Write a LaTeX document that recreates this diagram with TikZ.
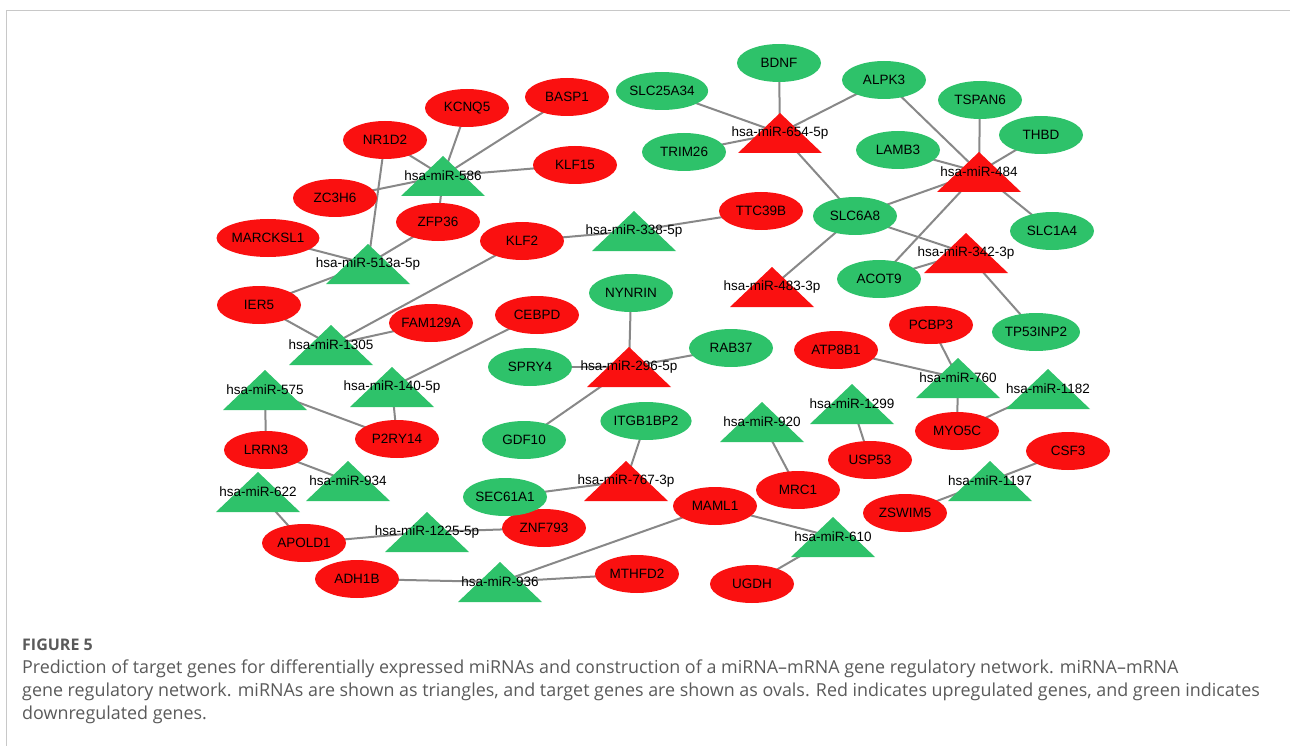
\documentclass[tikz,border=0pt]{standalone}
\usepackage{fontspec}
\usepackage{tikz}
\usetikzlibrary{shapes.geometric,backgrounds}
\newfontfamily\netfont{Liberation Sans}
\newfontfamily\capfont{Open Sans}
\definecolor{upred}{RGB}{250,16,16}
\definecolor{downgreen}{RGB}{46,194,106}
\definecolor{edgegray}{RGB}{136,136,136}
\definecolor{framegray}{RGB}{200,200,200}
\definecolor{capgray}{RGB}{90,90,90}

\begin{document}
\begin{tikzpicture}[x=1pt,y=-1pt,
    gene/.style={ellipse, minimum width=84, minimum height=38, inner sep=0pt,
      font=\netfont\fontsize{13.5}{14}\selectfont},
    mir/.style={inner sep=0pt, font=\netfont\fontsize{13.5}{14}\selectfont},
    edge/.style={edgegray, line width=2pt},
    captext/.style={anchor=west, inner sep=0pt, text=capgray,
      font=\capfont\fontsize{17.9}{19}\selectfont}]
  \useasboundingbox (0,0) rectangle (1290,746);
  % panel frame
  \draw[framegray, line width=1.5pt] (1290,10.5) -- (6.5,10.5) -- (6.5,746);

  % target genes, upregulated
  \foreach \n/\x/\y in {KCNQ5/467/108, BASP1/567/97, NR1D2/385/140, KLF15/575/165,
      ZC3H6/335/198, ZFP36/438/222, KLF2/522/241, MARCKSL1/268/238, IER5/259/305,
      FAM129A/431/323, CEBPD/537/315, TTC39B/761/211, PCBP3/931/325, ATP8B1/836/350,
      MYO5C/957/431, USP53/870/460, CSF3/1068/451, MRC1/798/490, ZSWIM5/905/513,
      MAML1/715/506, P2RY14/397/439, LRRN3/266/450, APOLD1/304/543, ZNF793/544/528,
      ADH1B/357/579, MTHFD2/637/574, UGDH/752/584} {
    \node[gene, fill=upred] (\n) at (\x,\y) {\n};
  }
  % target genes, downregulated
  \foreach \n/\x/\y in {BDNF/779/63, SLC25A34/662/91, ALPK3/884/80, TRIM26/684/152,
      TSPAN6/980/100, THBD/1041/135, LAMB3/898/150, SLC6A8/855/216, SLC1A4/1052/231,
      ACOT9/879/279, TP53INP2/1036/332, NYNRIN/631/293, SPRY4/530/367, RAB37/731/348,
      GDF10/524/440, ITGB1BP2/646/421, SEC61A1/505/497} {
    \node[gene, fill=downgreen] (\n) at (\x,\y) {\n};
  }

  % miRNAs (triangles)
  \foreach \n/\x/\y/\c/\t in {m586/443/176/downgreen/hsa-miR-586,
      m513/368/264/downgreen/hsa-miR-513a-5p, m338/634/231/downgreen/hsa-miR-338-5p,
      m654/780/133/upred/hsa-miR-654-5p, m484/979/172/upred/hsa-miR-484,
      m342/966/253/upred/hsa-miR-342-3p, m483/772/287/upred/hsa-miR-483-3p,
      m1305/331/345/downgreen/hsa-miR-1305, m140/392/387/downgreen/hsa-miR-140-5p,
      m575/265/390/downgreen/hsa-miR-575, m296/629/367/upred/hsa-miR-296-5p,
      m760/958/378/downgreen/hsa-miR-760, m1182/1048/389/downgreen/hsa-miR-1182,
      m1299/852/404/downgreen/hsa-miR-1299, m920/762/422/downgreen/hsa-miR-920,
      m934/348/481/downgreen/hsa-miR-934, m622/258/492/downgreen/hsa-miR-622,
      m767/626/481/upred/hsa-miR-767-3p, m1197/990/481/downgreen/hsa-miR-1197,
      m1225/427/532/downgreen/hsa-miR-1225-5p, m610/833/537/downgreen/hsa-miR-610,
      m936/500/582/downgreen/hsa-miR-936} {
    \fill[\c] (\x-42,\y+20) -- (\x,\y-20) -- (\x+42,\y+20) -- cycle;
    \node[mir] (\n) at (\x,\y) {\t};
  }

  % interactions
  \begin{scope}[on background layer]
    \foreach \a/\b in {m586/NR1D2, m586/KCNQ5, m586/BASP1, m586/KLF15, m586/ZC3H6,
        m586/ZFP36, m513/NR1D2, m513/MARCKSL1, m513/ZFP36, m513/IER5,
        m338/KLF2, m338/TTC39B, m1305/IER5, m1305/FAM129A, m1305/KLF2,
        m654/BDNF, m654/SLC25A34, m654/ALPK3, m654/TRIM26, m654/SLC6A8,
        m484/ALPK3, m484/TSPAN6, m484/THBD, m484/LAMB3, m484/SLC6A8, m484/SLC1A4,
        m484/ACOT9, m342/SLC6A8, m342/ACOT9, m342/TP53INP2, m483/SLC6A8,
        m140/CEBPD, m140/P2RY14, m575/LRRN3, m575/P2RY14,
        m296/NYNRIN, m296/SPRY4, m296/RAB37, m296/GDF10,
        m760/ATP8B1, m760/PCBP3, m760/MYO5C, m1182/MYO5C, m1299/USP53, m920/MRC1,
        m934/LRRN3, m622/APOLD1, m767/ITGB1BP2, m767/SEC61A1,
        m1197/CSF3, m1197/ZSWIM5, m1225/APOLD1, m1225/ZNF793,
        m610/MAML1, m610/UGDH, m936/ADH1B, m936/MTHFD2, m936/MAML1} {
      \draw[edge] (\a.center) -- (\b.center);
    }
  \end{scope}

  % caption
  \node[captext, font=\capfont\bfseries\fontsize{16}{18}\selectfont] (fig) at (22,645) {FIGURE 5};
  \node[captext] (cap1) at (22,669) {Prediction of target genes for differentially expressed miRNAs and construction of a miRNA–mRNA gene regulatory network. miRNA–mRNA};
  \node[captext] (cap2) at (22,692) {gene regulatory network. miRNAs are shown as triangles, and target genes are shown as ovals. Red indicates upregulated genes, and green indicates};
  \node[captext] (cap3) at (22,715) {downregulated genes.};
\end{tikzpicture}
\end{document}
